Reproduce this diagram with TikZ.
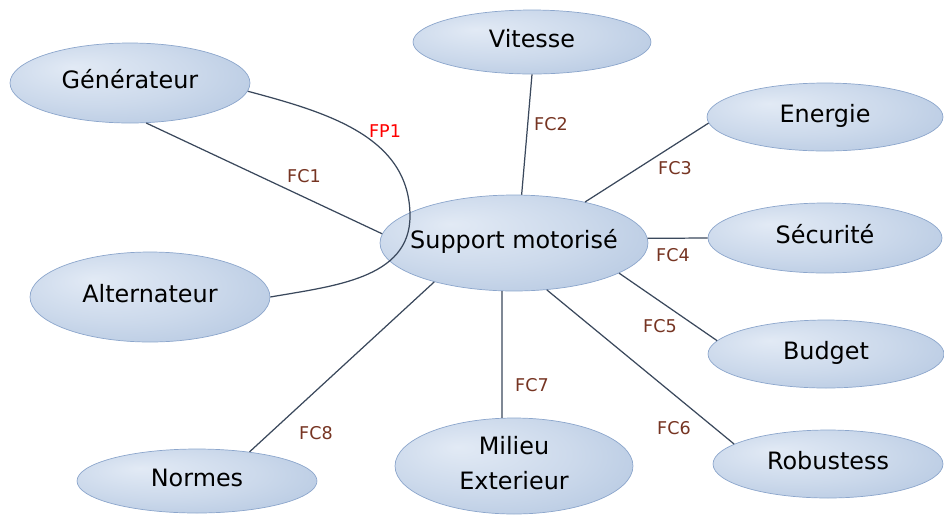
\documentclass[tikz,border=0pt]{standalone}
\usepackage{fontspec}
\setmainfont{DejaVu Sans}
\usetikzlibrary{shapes.geometric}
\definecolor{BulleClair}{RGB}{226,234,245}
\definecolor{BulleFonce}{RGB}{163,186,217}
\colorlet{BulleMilieu}{BulleClair!65!BulleFonce}
\definecolor{BulleBord}{RGB}{140,166,204}
\definecolor{Trait}{RGB}{58,72,92}
\definecolor{FCBrun}{RGB}{118,52,34}
\pgfdeclareradialshading{bulle}{\pgfpoint{-12bp}{10bp}}{color(0bp)=(BulleClair); color(20bp)=(BulleMilieu); color(50bp)=(BulleFonce)}
\newcommand{\bulletexte}[1]{\makebox[0pt]{\begin{tabular}{@{}c@{}}#1\end{tabular}}}

\begin{document}
\begin{tikzpicture}[x=0.02cm, y=-0.02cm, font=\fontsize{13.6}{16}\selectfont,
    bulle/.style={ellipse, shade, shading=bulle, draw=BulleBord, line width=0.4pt, inner sep=0pt},
    lien/.style={Trait, line width=0.7pt},
    fc/.style={text=FCBrun, font=\fontsize{10}{12}\selectfont},
    fp/.style={text=red, font=\fontsize{10}{12}\selectfont}]
  \useasboundingbox (0,0) rectangle (944,515);

  \node[bulle, minimum width=4.8cm, minimum height=1.6cm] (gen) at (130,83) {\bulletexte{Générateur}};
  \node[bulle, minimum width=4.76cm, minimum height=1.28cm] (vit) at (532,42) {\bulletexte{Vitesse}};
  \node[bulle, minimum width=4.72cm, minimum height=1.36cm] (ene) at (825,117) {\bulletexte{Energie}};
  \node[bulle, minimum width=4.68cm, minimum height=1.4cm] (sec) at (825,238) {\bulletexte{Sécurité}};
  \node[bulle, minimum width=4.72cm, minimum height=1.36cm] (bud) at (826,354) {\bulletexte{Budget}};
  \node[bulle, minimum width=4.6cm, minimum height=1.36cm] (rob) at (828,464) {\bulletexte{Robustess}};
  \node[bulle, minimum width=4.76cm, minimum height=1.92cm] (mil) at (514,466) {\bulletexte{Milieu\\[4pt]Exterieur}};
  \node[bulle, minimum width=4.8cm, minimum height=1.28cm] (nor) at (197,481) {\bulletexte{Normes}};
  \node[bulle, minimum width=4.8cm, minimum height=1.8cm] (alt) at (150,297) {\bulletexte{Alternateur}};
  \node[bulle, minimum width=5.36cm, minimum height=1.92cm] (sup) at (514,243) {\bulletexte{Support motorisé}};

  \coordinate (fpturn) at (410,216);
  \draw[lien] (gen.-4) to[out=-15, in=90] (fpturn) to[out=-90, in=10] (alt.0);
  \draw[lien] (gen.-68) -- (sup.176);
  \draw[lien] (vit.-90) -- (sup.81);
  \draw[lien] (ene.183) -- (sup.30);
  \draw[lien] (sup.2) -- (sec.180);
  \draw[lien] (sup.-16) -- (bud.173);
  \draw[lien] (sup.-55) -- (rob.168);
  \draw[lien] (sup.-104) -- (mil.104);
  \draw[lien] (sup.-154) -- (nor.29);

  \node[fp] (fp1) at (385,131) {FP1};
  \node[fc] (fc1) at (304,176) {FC1};
  \node[fc] (fc2) at (551,124) {FC2};
  \node[fc] (fc3) at (675,168) {FC3};
  \node[fc] (fc4) at (673,255) {FC4};
  \node[fc] (fc5) at (660,326) {FC5};
  \node[fc] (fc6) at (674,428) {FC6};
  \node[fc] (fc7) at (532,385) {FC7};
  \node[fc] (fc8) at (316,433) {FC8};
\end{tikzpicture}
\end{document}
